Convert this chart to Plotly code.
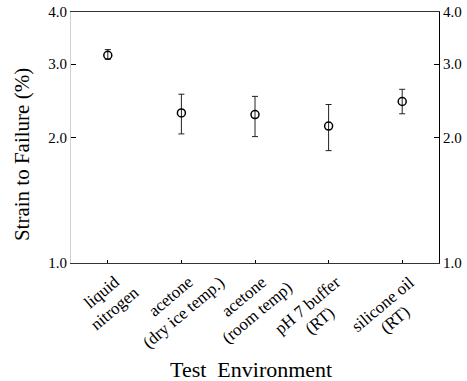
import math
import plotly.graph_objects as go

# ---- data ----
label_line1 = ["liquid", "acetone", "acetone", "pH 7 buffer", "silicone oil"]
label_line2 = ["nitrogen", "(dry ice temp.)", "(room temp)", "(RT)", "(RT)"]
strain = [3.15, 2.29, 2.27, 2.13, 2.44]
err_plus = [0.10, 0.25, 0.24, 0.27, 0.17]
err_minus = [0.07, 0.25, 0.26, 0.27, 0.16]
tick_vals = [1.0, 2.0, 3.0, 4.0]
tick_text = ["1.0", "2.0", "3.0", "4.0"]
y_title = "Strain to Failure (%)"
x_title = "Test&nbsp;&nbsp;Environment"

x_idx = list(range(len(label_line1)))
font = "Liberation Serif, Times New Roman, serif"

# Times / Liberation Serif advance widths (em/1000), used to lay out the rotated labels
W = {" ": 250, "(": 333, ")": 333, ".": 250, "7": 500, "H": 722, "R": 667, "T": 611,
     "a": 444, "b": 500, "c": 444, "d": 500, "e": 444, "f": 333, "g": 500, "i": 278,
     "l": 278, "m": 778, "n": 500, "o": 500, "p": 500, "q": 500, "r": 333, "s": 389,
     "t": 278, "u": 500, "y": 500, "v": 500}


def text_w(s, size):
    return sum(W.get(ch, 500) for ch in s) / 1000.0 * size


fig = go.Figure()
fig.add_trace(go.Scatter(
    x=x_idx, y=strain, mode="markers",
    marker=dict(symbol="circle-open", size=8, color="black", line=dict(width=1.5)),
    error_y=dict(type="data", symmetric=False, array=err_plus, arrayminus=err_minus,
                 color="#222222", thickness=1, width=3),
    showlegend=False, cliponaxis=False,
))
fig.add_trace(go.Scatter(x=x_idx, y=strain, yaxis="y2", mode="markers",
                         marker=dict(opacity=0), showlegend=False, hoverinfo="skip"))

yax = dict(type="log", range=[0, math.log10(4.0)], tickvals=tick_vals, ticktext=tick_text,
           ticks="inside", ticklen=5, tickcolor="black", showgrid=False, zeroline=False,
           linewidth=1, automargin=False,
           tickfont=dict(family=font, size=15, color="black"))

# rotated two-line category labels: first line ends at the tick, second centred under it
fs = 17
theta = math.radians(40)
lh = 20
ux, uy = math.cos(theta), -math.sin(theta)
nx, ny = math.sin(theta), math.cos(theta)
px, py = 9, 17
annotations = []
for i, (l1, l2) in enumerate(zip(label_line1, label_line2)):
    L1 = text_w(l1, fs)
    c1x = px - L1 / 2 * ux
    c1y = py - L1 / 2 * uy
    c2x = c1x + lh * nx
    c2y = c1y + lh * ny
    for txt, cx, cy in ((l1, c1x, c1y), (l2, c2x, c2y)):
        annotations.append(dict(
            x=i, xref="x", y=0, yref="paper", text=txt, showarrow=False,
            textangle=-40, xanchor="center", yanchor="middle",
            xshift=cx, yshift=-cy, font=dict(family=font, size=fs, color="black")))

annotations.append(dict(x=0, xref="paper", y=0.43, yref="paper", text=y_title,
                        showarrow=False, textangle=-90, xanchor="center", yanchor="middle",
                        xshift=-49, font=dict(family=font, size=21, color="black")))
annotations.append(dict(x=0.5, xref="paper", y=0, yref="paper", text=x_title,
                        showarrow=False, xanchor="center", yanchor="middle",
                        xshift=-4, yshift=-106.5, font=dict(family=font, size=22, color="black")))

fig.update_layout(
    width=467, height=381,
    margin=dict(l=71, r=28, t=12, b=118),
    paper_bgcolor="white", plot_bgcolor="white",
    font=dict(family=font, color="black"),
    xaxis=dict(range=[-0.5, 4.5], tickvals=x_idx, showticklabels=False,
               ticks="inside", ticklen=3, tickcolor="black", showgrid=False, zeroline=False,
               showline=True, linecolor="#333333", linewidth=1, mirror=True, automargin=False),
    yaxis=dict(**yax, showline=True, linecolor="#d0d0d0", side="left"),
    yaxis2=dict(**yax, showline=True, linecolor="black", side="right", overlaying="y"),
    annotations=annotations,
)

fig.write_html("out.html")
